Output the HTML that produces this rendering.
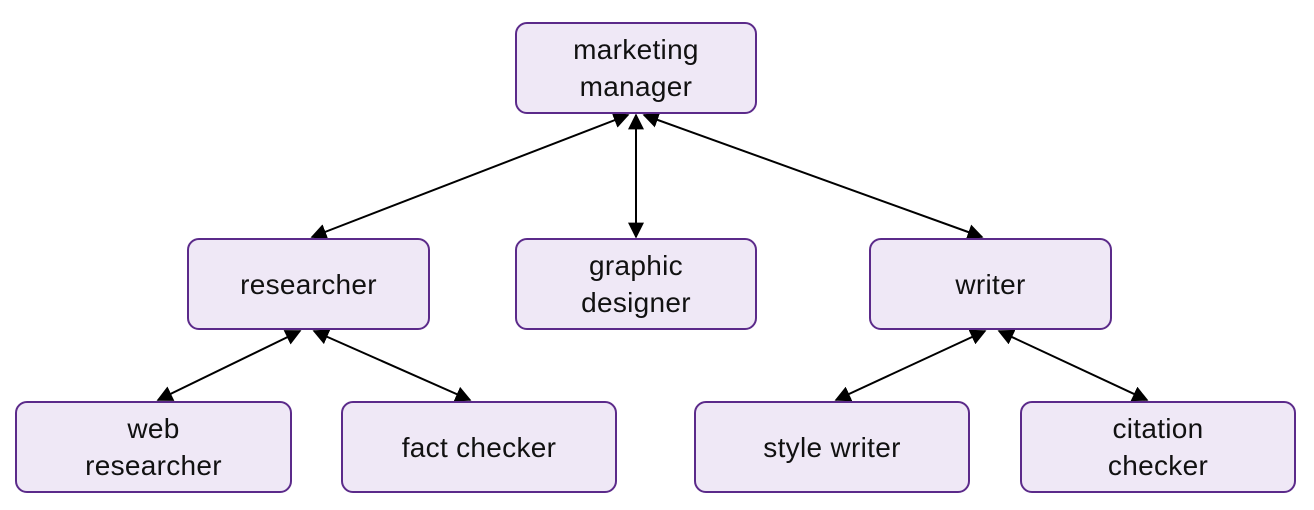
<!DOCTYPE html>
<html><head><style>
body{margin:0;background:#fff;width:1314px;height:510px;overflow:hidden;font-family:"Liberation Sans",sans-serif;}
.b{position:absolute;box-sizing:border-box;background:#efe8f6;border:2.5px solid #5b2a8a;border-radius:12px;display:flex;align-items:center;justify-content:center;text-align:center;font-size:28px;line-height:37px;color:#111;letter-spacing:0.3px;}
svg{position:absolute;left:0;top:0;}
</style></head><body>
<svg width="1314" height="510">
<defs><marker id="a" viewBox="0 0 10 10" refX="9" refY="5" markerWidth="8" markerHeight="8" orient="auto-start-reverse"><path d="M0,0L10,5L0,10z" fill="#000"/></marker></defs>
<g stroke="#000" stroke-width="2" marker-start="url(#a)" marker-end="url(#a)">
<line x1="628" y1="115" x2="312" y2="237"/>
<line x1="636" y1="115" x2="636" y2="237"/>
<line x1="644" y1="115" x2="982" y2="237"/>
<line x1="300" y1="331" x2="158" y2="400"/>
<line x1="314" y1="331" x2="470" y2="400"/>
<line x1="985" y1="331" x2="836" y2="400"/>
<line x1="999" y1="331" x2="1147" y2="400"/>
</g></svg>
<div class="b" style="left:515px;top:22px;width:242px;height:92px">marketing<br>manager</div>
<div class="b" style="left:187px;top:238px;width:243px;height:92px">researcher</div>
<div class="b" style="left:515px;top:238px;width:242px;height:92px">graphic<br>designer</div>
<div class="b" style="left:869px;top:238px;width:243px;height:92px">writer</div>
<div class="b" style="left:15px;top:401px;width:277px;height:92px">web<br>researcher</div>
<div class="b" style="left:341px;top:401px;width:276px;height:92px">fact checker</div>
<div class="b" style="left:694px;top:401px;width:276px;height:92px">style writer</div>
<div class="b" style="left:1020px;top:401px;width:276px;height:92px">citation<br>checker</div>
</body></html>
